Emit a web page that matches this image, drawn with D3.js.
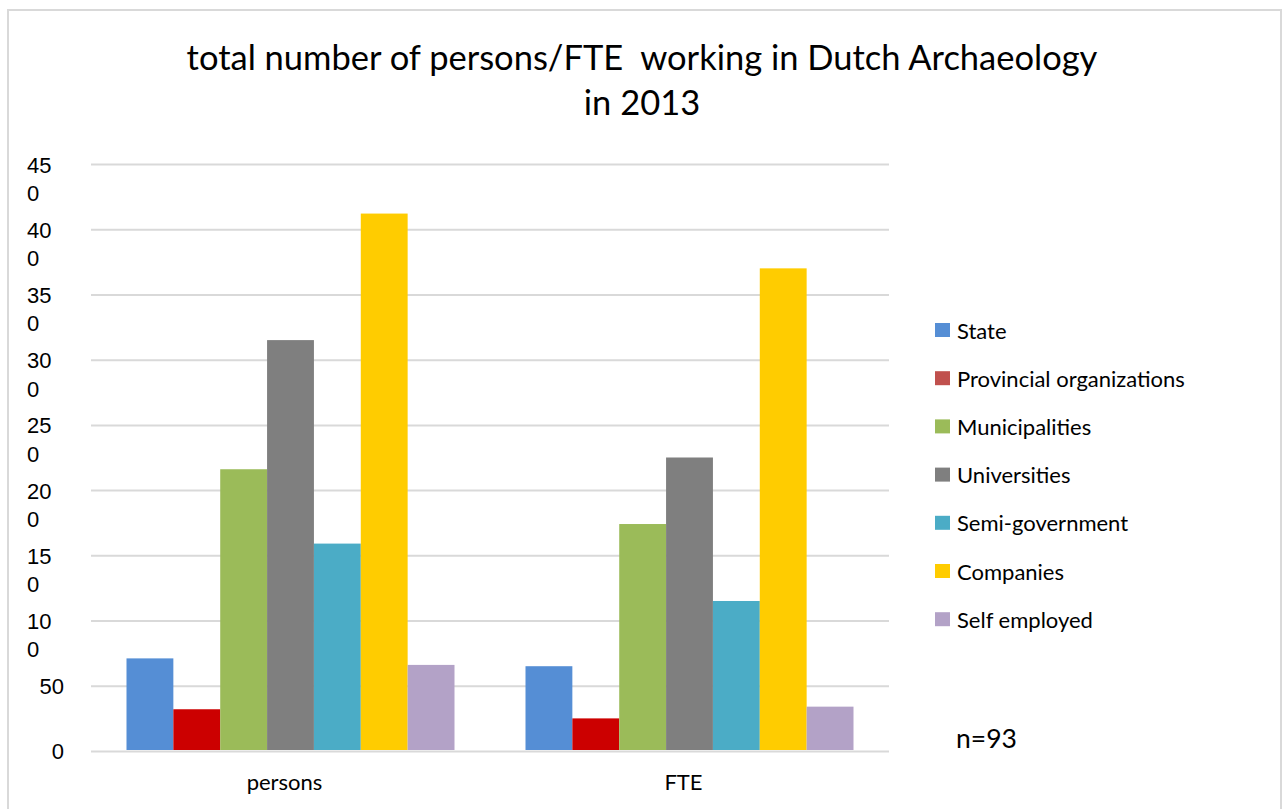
<!DOCTYPE html>
<html>
<head>
<meta charset="utf-8">
<script src="https://cdn.jsdelivr.net/npm/d3@7/dist/d3.min.js"></script>
<style>
  body { margin: 0; background: #fff; }
  svg { display: block; font-family: Lato, "Open Sans", sans-serif; }
</style>
</head>
<body>
<div id="chart"></div>
<script>
// values
const categories = ["persons", "FTE"];
const series = ["State", "Provincial organizations", "Municipalities", "Universities",
    "Semi-government", "Companies", "Self employed"];
const personsValues = [71, 32, 216, 315, 159, 412, 66];
const fteValues = [65, 25, 174, 225, 115, 370, 34];
const yTicks = [0, 50, 100, 150, 200, 250, 300, 350, 400, 450];
const barColors = ["#558ed5", "#cc0000", "#9bbb59", "#7f7f7f", "#4bacc6", "#ffcc00", "#b3a2c7"];
const legendColors = ["#558ed5", "#c0504d", "#9bbb59", "#7f7f7f", "#4bacc6", "#ffcc00", "#b3a2c7"];
const titleLines = ["total number of persons/FTE  working in Dutch Archaeology", "in 2013"];
const note = "n=93";

const width = 1285, height = 809;
const plot = {left: 91, right: 889, top: 164, bottom: 751};

const svg = d3.select("#chart").append("svg")
    .attr("width", width)
    .attr("height", height);

// chart area frame
svg.append("rect")
    .attr("x", 8).attr("y", 10)
    .attr("width", 1273).attr("height", 830)
    .attr("fill", "#fff")
    .attr("stroke", "#d9d9d9")
    .attr("stroke-width", 2);

// title
svg.append("text")
    .attr("text-anchor", "middle")
    .style("font-size", "34.5px")
    .style("white-space", "pre")
    .attr("fill", "#000")
    .selectAll("tspan")
    .data(titleLines)
    .join("tspan")
    .attr("x", 642)
    .attr("y", (d, i) => 70 + i * 45)
    .text(d => d);

const y = d3.scaleLinear()
    .domain([0, 450])
    .range([plot.bottom, plot.top]);

const x0 = d3.scaleBand()
    .domain(categories)
    .range([plot.left, plot.right]);

const x1 = d3.scaleBand()
    .domain(series)
    .range([35.5, x0.bandwidth() - 35.5]);

// gridlines
const yAxis = svg.append("g")
    .attr("transform", `translate(${plot.left},0)`)
    .call(d3.axisLeft(y)
        .tickValues(yTicks)
        .tickSize(-(plot.right - plot.left))
        .tickFormat(""));

yAxis.select(".domain").remove();
yAxis.selectAll(".tick line")
    .attr("stroke", "#d9d9d9")
    .attr("stroke-width", 2);

// tick labels, wrapped like the original ("45" / "0")
yAxis.selectAll(".tick").each(function (d) {
    const label = String(d);
    const t = d3.select(this).append("text")
        .attr("fill", "#000")
        .style("font-size", "22px")
        .attr("dominant-baseline", "central");
    if (label.length > 2) {
        t.attr("text-anchor", "start");
        t.append("tspan").attr("x", 27 - plot.left).attr("y", 0).text(label.slice(0, 2));
        t.append("tspan").attr("x", 27 - plot.left).attr("y", 28.4).text(label.slice(2));
    } else {
        t.attr("text-anchor", "end").attr("x", 64 - plot.left).attr("y", 0).text(label);
    }
});

// bars
const data = categories.map((c, i) => ({
    category: c,
    values: (i === 0 ? personsValues : fteValues)
}));

const groups = svg.append("g")
    .selectAll("g")
    .data(data)
    .join("g")
    .attr("transform", d => `translate(${x0(d.category)},0)`);

groups.selectAll("rect")
    .data(d => d.values.map((v, j) => ({key: series[j], value: v, color: barColors[j]})))
    .join("rect")
    .attr("x", d => x1(d.key))
    .attr("width", x1.bandwidth())
    .attr("y", d => y(d.value))
    .attr("height", d => y(0) - y(d.value) - 1)
    .attr("fill", d => d.color);

// category labels
svg.append("g")
    .selectAll("text")
    .data(categories)
    .join("text")
    .attr("x", d => x0(d) + x0.bandwidth() / 2 - 6)
    .attr("y", 790)
    .attr("text-anchor", "middle")
    .style("font-size", "22px")
    .text(d => d);

// legend
const legend = svg.append("g")
    .selectAll("g")
    .data(series)
    .join("g")
    .attr("transform", (d, i) => `translate(935,${330 + i * 48.2})`);

legend.append("rect")
    .attr("x", 0).attr("y", -7)
    .attr("width", 15).attr("height", 14)
    .attr("fill", (d, i) => legendColors[i]);

legend.append("text")
    .attr("x", 22)
    .attr("dominant-baseline", "central")
    .style("font-size", "22px")
    .text(d => d);

svg.append("text")
    .attr("x", 956)
    .attr("y", 748)
    .style("font-size", "26.5px")
    .text(note);
</script>
</body>
</html>
